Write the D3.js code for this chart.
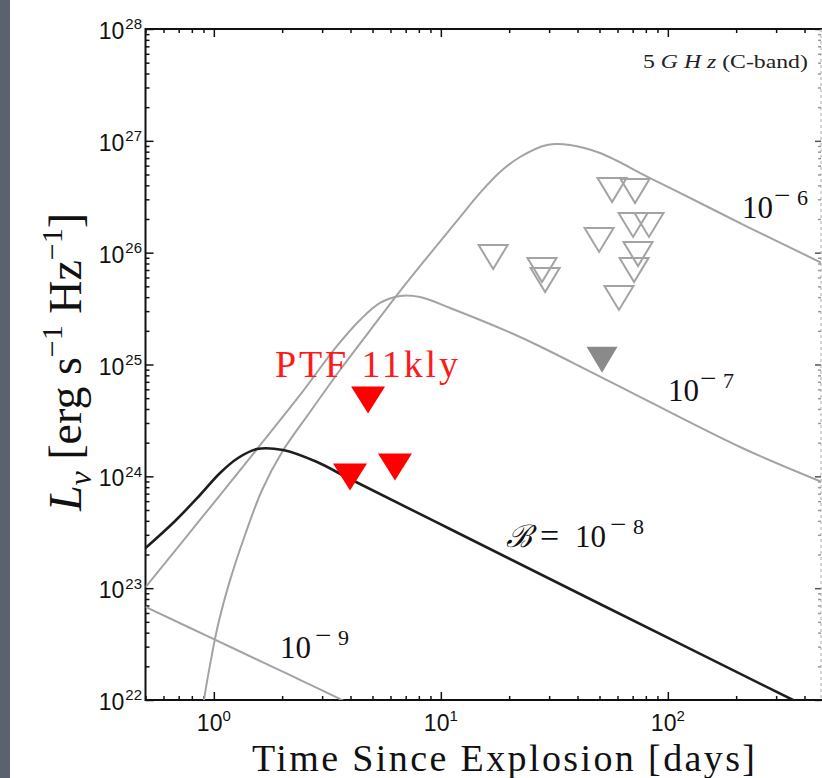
<!DOCTYPE html>
<html><head><meta charset="utf-8">
<script src="https://cdn.jsdelivr.net/npm/d3@7"></script>
<style>body{margin:0;background:#fff;overflow:hidden}svg{display:block}</style>
</head><body><svg id="c" width="822" height="778"></svg>
<script>
// ---------- data ----------
const xMajor = [1, 10, 100];
const xTickExps = ["0", "1", "2"];
const yMajor = [1e22, 1e23, 1e24, 1e25, 1e26, 1e27, 1e28];
const yTickExps = ["22", "23", "24", "25", "26", "27", "28"];

// model light curves, B = 1e-6 ... 1e-9  (t in days, L in erg/s/Hz)
const b6T = [0.869, 0.905, 0.962, 1.043, 1.179, 1.372, 1.631, 1.998, 2.653, 3.597, 4.778, 6.612, 9.24, 12.15, 14.88, 18.23, 22.34, 29.37, 37.08, 50.27, 83.45, 138.7, 230.2, 477.8];
const b6L = [5.39e21, 1.0e22, 2.06e22, 4.68e22, 1.18e23, 2.99e23, 7.55e23, 1.65e24, 3.76e24, 8.93e24, 1.91e25, 4.54e25, 1.056e26, 2.08e26, 3.42e26, 5.26e26, 7.17e26, 9.18e26, 9.18e26, 7.78e26, 4.65e26, 2.78e26, 1.66e26, 8.08e25];
const b7T = [0.5, 0.869, 1.55, 2.398, 3.489, 4.406, 5.397, 6.612, 8.098, 10.98, 22.34, 51.83, 208.0, 477.8];
const b7L = [1.02e23, 4.07e23, 1.755e24, 5.34e24, 1.464e25, 2.5e25, 3.55e25, 4.1e25, 4.01e25, 3.2e25, 1.762e25, 7.57e24, 1.829e24, 8.9e23];
const b8T = [0.5, 0.675, 0.869, 1.065, 1.278, 1.55, 2.018, 2.849, 3.981, 10.98, 50.27, 356.0, 518.2];
const b8L = [2.286e23, 3.99e23, 6.81e23, 1.071e24, 1.458e24, 1.755e24, 1.72e24, 1.343e24, 9.46e23, 3.38e23, 7.22e22, 1e22, 6.9e21];
const b9T = [0.5, 1.0, 2.0, 3.6, 4.0];
const b9L = [6.8e22, 3.5e22, 1.8e22, 1.02e22, 9.1e21];

// observed upper limits
const ptfT = [4.78, 3.98, 6.28];
const ptfL = [4.82e24, 9.86e23, 1.21e24];
const grayFillT = [51.3];
const grayFillL = [1.10e25];
const openT = [17.0, 27.9, 28.8, 49.8, 56.8, 71.7, 70.3, 82.6, 73.9, 71.0, 60.9];
const openL = [9.15e25, 7.0e25, 5.7e25, 1.30e26, 3.63e26, 3.56e26, 1.77e26, 1.77e26, 9.73e25, 7.0e25, 3.94e25];

// ---------- drawing ----------
const W = 822, H = 778;
const svg = d3.select('#c');
svg.append('rect').attr('width', W).attr('height', H).attr('fill', '#fff');
svg.append('rect').attr('x', 0).attr('y', 0).attr('width', 10).attr('height', H).attr('fill', '#5c6170');

const x = d3.scaleLog().domain([0.5, 500]).range([145.5, 826.5]);
const y = d3.scaleLog().domain([1e22, 1e28]).range([700, 29]);
const L = 145.5, R = 821, T = 29, B = 700;

const defs = svg.append('defs');
defs.append('clipPath').attr('id', 'clip').append('rect')
  .attr('x', L).attr('y', T).attr('width', R - L).attr('height', B - T);

const serif = '"Liberation Serif","Times New Roman",serif';
const sans = '"Liberation Sans",Arial,sans-serif';

// minor tick values
const xMinor = [], yMinor = [];
for (let n = -1; n <= 2; n++) for (let k = 2; k <= 9; k++) {
  const v = k * Math.pow(10, n);
  if (v >= 0.5 && v <= x.invert(R)) xMinor.push(v);
}
for (let n = 22; n < 28; n++) for (let k = 2; k <= 9; k++) yMinor.push(k * Math.pow(10, n));

function ax(gen, scale, vals, size, tx, ty, color) {
  const g = svg.append('g').attr('transform', `translate(${tx},${ty})`)
    .call(gen(scale).tickValues(vals).tickSize(size).tickFormat(''));
  g.select('.domain').remove();
  g.selectAll('line').attr('stroke', color || '#111').attr('stroke-width', 1.5);
  return g;
}
ax(d3.axisBottom, x, xMajor, -8, 0, B);
ax(d3.axisBottom, x, xMinor, -4, 0, B);
ax(d3.axisTop, x, xMajor, -8, 0, T);
ax(d3.axisTop, x, xMinor, -4, 0, T);
ax(d3.axisLeft, y, yMajor, -8, L, 0);
ax(d3.axisLeft, y, yMinor, -4, L, 0);
ax(d3.axisRight, y, yMajor, -6, R, 0, '#555');
ax(d3.axisRight, y, yMinor, -3, R, 0, '#999');

// frame
svg.append('line').attr('x1', L).attr('x2', L).attr('y1', T - 1).attr('y2', B + 1).attr('stroke', '#111').attr('stroke-width', 2);
svg.append('line').attr('x1', L).attr('x2', W).attr('y1', B).attr('y2', B).attr('stroke', '#111').attr('stroke-width', 2);
svg.append('line').attr('x1', L).attr('x2', W).attr('y1', T).attr('y2', T).attr('stroke', '#111').attr('stroke-width', 2);
svg.append('line').attr('x1', R).attr('x2', R).attr('y1', T).attr('y2', B).attr('stroke', '#aaa').attr('stroke-width', 1).attr('stroke-dasharray', '3,3');

// curves
const plot = svg.append('g').attr('clip-path', 'url(#clip)');
const lineGen = d3.line().x(d => x(d[0])).y(d => y(d[1])).curve(d3.curveCatmullRom.alpha(0.5));
const pts = (A, Bv) => A.map((t, i) => [t, Bv[i]]);
[[b9T, b9L], [b7T, b7L], [b6T, b6L]].forEach(([a, b]) => {
  plot.append('path').attr('d', lineGen(pts(a, b))).attr('fill', 'none')
    .attr('stroke', '#a3a3a3').attr('stroke-width', 2);
});
plot.append('path').attr('d', lineGen(pts(b8T, b8L))).attr('fill', 'none')
  .attr('stroke', '#1e1e1e').attr('stroke-width', 2.6);

// triangles
const tri = (w, h) => (d) => {
  const cx = x(d[0]), cy = y(d[1]);
  return `M${cx - w / 2},${cy - h / 2}L${cx + w / 2},${cy - h / 2}L${cx},${cy + h / 2}Z`;
};
plot.selectAll('.open').data(pts(openT, openL)).enter().append('path')
  .attr('d', tri(29, 24)).attr('fill', 'none').attr('stroke', '#a3a3a3').attr('stroke-width', 2);
plot.selectAll('.gf').data(pts(grayFillT, grayFillL)).enter().append('path')
  .attr('d', tri(31, 26)).attr('fill', '#8a8a8a');
plot.selectAll('.ptf').data(pts(ptfT, ptfL)).enter().append('path')
  .attr('d', tri(34, 27)).attr('fill', '#ff0000');

// rich text helper: parts [{t, sup, sub, it, fs, x, dx}]
function rich(sel, parts, base) {
  let shift = 0;
  parts.forEach(p => {
    const ts = sel.append('tspan').text(p.t);
    let target = 0;
    if (p.sup) target = -base * 0.42;
    if (p.sub) target = base * 0.22;
    const dy = target - shift;
    if (dy !== 0) ts.attr('dy', dy);
    shift = target;
    if (p.fs) ts.attr('font-size', p.fs);
    if (p.it) ts.attr('font-style', 'italic');
    if (p.dx) ts.attr('dx', p.dx);
    if (p.x !== undefined) ts.attr('x', p.x);
  });
}

// tick labels
xMajor.forEach((v, i) => {
  const t = svg.append('text').attr('x', x(v)).attr('y', 731).attr('text-anchor', 'middle')
    .attr('font-family', sans).attr('font-size', 23).attr('fill', '#111');
  rich(t, [{ t: '10' }, { t: xTickExps[i], sup: true, fs: 15 }], 23);
});
yMajor.forEach((v, i) => {
  const t = svg.append('text').attr('x', 142).attr('y', y(v) + 10).attr('text-anchor', 'end')
    .attr('font-family', sans).attr('font-size', 23).attr('fill', '#111');
  rich(t, [{ t: '10' }, { t: yTickExps[i], sup: true, fs: 15, dx: 1 }], 23);
});

// axis titles
svg.append('text').attr('x', 252).attr('y', 771).attr('font-family', serif).attr('font-size', 38)
  .attr('fill', '#111').attr('textLength', 503).attr('lengthAdjust', 'spacing')
  .text('Time Since Explosion [days]');
const yt = svg.append('text').attr('transform', 'translate(81,362) rotate(-90)')
  .attr('text-anchor', 'middle').attr('font-family', serif).attr('font-size', 46).attr('fill', '#111');
rich(yt, [{ t: 'L', it: true }, { t: 'ν', sub: true, it: true, fs: 32 }, { t: ' [erg s' },
  { t: '−1', sup: true, fs: 30 }, { t: ' Hz' }, { t: '−1', sup: true, fs: 30 }, { t: ']' }], 46);

// annotations
const ann = (py, fs, parts, color) => {
  const t = svg.append('text').attr('y', py).attr('font-family', serif)
    .attr('font-size', fs).attr('fill', color || '#111');
  rich(t, parts, fs);
  return t;
};
const expo = (x0, digit) => [{ t: '−', sup: true, fs: 29, x: x0 }, { t: digit, sup: true, x: x0 + 23, fs: 22 }];
ann(218, 31, [{ t: '10', x: 742 }, ...expo(774, '6')]);
ann(401, 31, [{ t: '10', x: 668 }, ...expo(700, '7')]);
ann(658, 31, [{ t: '10', x: 280 }, ...expo(315, '9')]);
ann(547, 31, [{ t: 'ℬ', it: true, x: 506 }, { t: '=', x: 540, fs: 34 }, { t: '10', x: 575 }, ...expo(610, '8')]);
svg.append('text').attr('x', 275).attr('y', 377).attr('font-family', serif)
  .attr('font-size', 38).attr('fill', '#ff1a1a').attr('textLength', 183).attr('lengthAdjust', 'spacing')
  .text('PTF 11kly');

// band label, glyphs widened horizontally to match the reference width
const band = svg.append('text').attr('font-family', serif).attr('font-size', 19).attr('fill', '#222');
rich(band, [{ t: '5 ' }, { t: 'G H z', it: true }, { t: ' (C-band)' }], 19);
const bw = band.node().getComputedTextLength();
band.attr('transform', `translate(643,68) scale(${165 / bw},1)`);
</script></body></html>
